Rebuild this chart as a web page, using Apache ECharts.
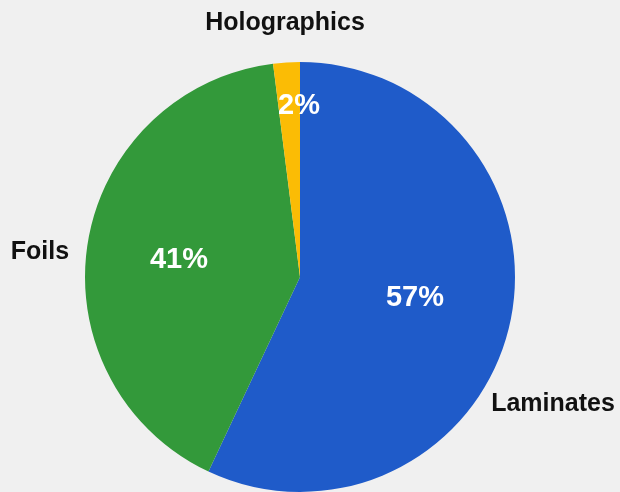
<!DOCTYPE html>
<html>
<head>
<meta charset="utf-8">
<script src="https://cdn.jsdelivr.net/npm/echarts@6/dist/echarts.min.js"></script>
<style>
  html, body { margin: 0; padding: 0; background: #f0f0f0; }
  #chart { width: 620px; height: 492px; }
</style>
</head>
<body>
<div id="chart"></div>
<script>
// Market share by product type
const categories = ['Laminates', 'Foils', 'Holographics'];
const shares = [57, 41, 2];
const colors = ['#1f5bc9', '#33993a', '#fbbc05'];

// Label anchor points (pixels) for the percentage and name labels
const pctPos = [[415, 298], [179, 260], [299, 106]];
const namePos = [[553, 404], [40, 252], [285, 23]];

const pieData = categories.map((name, i) => ({
  name: name,
  value: shares[i],
  itemStyle: { color: colors[i] }
}));

const common = {
  type: 'pie',
  center: [300, 277],
  radius: [0, 215],
  startAngle: 90,
  clockwise: true,
  avoidLabelOverlap: false,
  labelLine: { show: false },
  animation: false
};

const chart = echarts.init(document.getElementById('chart'), null, { renderer: 'canvas' });
chart.setOption({
  backgroundColor: '#f0f0f0',
  series: [
    Object.assign({}, common, {
      data: pieData,
      itemStyle: { borderWidth: 0 },
      label: {
        show: true,
        position: 'inside',
        formatter: '{d}%',
        color: '#ffffff',
        fontFamily: 'Liberation Sans, Arial, sans-serif',
        fontWeight: 'bold',
        fontSize: 29
      },
      labelLayout: function (p) {
        const pt = pctPos[p.dataIndex];
        return { x: pt[0], y: pt[1], align: 'center', verticalAlign: 'middle' };
      }
    }),
    Object.assign({}, common, {
      silent: true,
      data: categories.map((name, i) => ({ name: name, value: shares[i] })),
      itemStyle: { color: 'rgba(0,0,0,0)', borderWidth: 0 },
      label: {
        show: true,
        position: 'outside',
        formatter: '{b}',
        color: '#111111',
        fontFamily: 'Liberation Sans, Arial, sans-serif',
        fontWeight: 'bold',
        fontSize: 25
      },
      labelLayout: function (p) {
        const pt = namePos[p.dataIndex];
        return { x: pt[0], y: pt[1], align: 'center', verticalAlign: 'middle' };
      }
    })
  ]
});
</script>
</body>
</html>
